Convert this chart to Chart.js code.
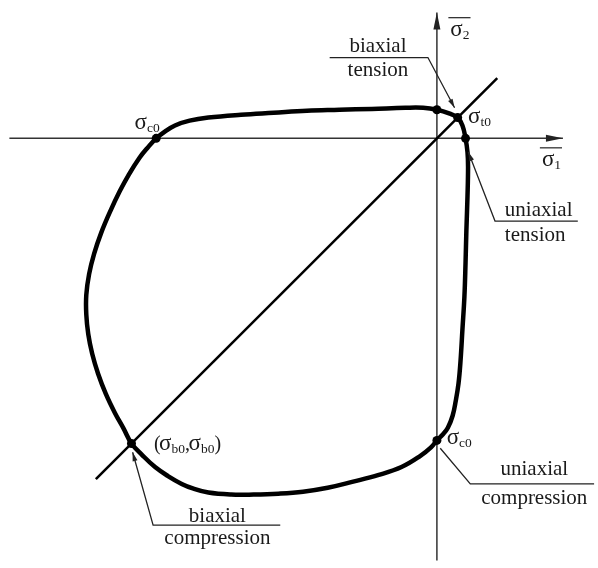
<!DOCTYPE html>
<html>
<head>
<meta charset="utf-8">
<script src="https://cdn.jsdelivr.net/npm/chart.js@4.4.1/dist/chart.umd.min.js"></script>
<style>
  body { margin: 0; background: #fff; }
</style>
</head>
<body>
<canvas id="myChart" width="598" height="568"></canvas>
<script>
// contraintes normalisées (sigma / |sigma_c0|), surface de rupture relevée sur l'image
// ordre : haut -> côté droit -> bas -> côté gauche -> haut
const courbeX = [-0.347, -0.232, -0.112, -0.049, 0, 0.046, 0.074, 0.091, 0.102,
                 0.109, 0.111, 0.109, 0.105, 0.102, 0.098, 0.091, 0.084, 0.077, 0.067, 0.056, 0.039, 0.021, 0,
                 -0.021, -0.060, -0.126, -0.207, -0.302, -0.389, -0.477, -0.565, -0.653, -0.733, -0.814, -0.867,
                 -0.909, -0.958, -1.004, -1.049, -1.088,
                 -1.116, -1.147, -1.179, -1.207, -1.228, -1.242, -1.249, -1.249, -1.239, -1.221, -1.196, -1.165,
                 -1.130, -1.098, -1.060, -1.032, -1.0,
                 -0.968, -0.933, -0.881, -0.814, -0.698, -0.582, -0.463];
const courbeY = [0.102, 0.105, 0.109, 0.109, 0.102, 0.088, 0.074, 0.046, 0,
                 -0.049, -0.102, -0.207, -0.330, -0.446, -0.565, -0.681, -0.796, -0.874, -0.937, -0.989, -1.032, -1.056, -1.077,
                 -1.102, -1.133, -1.172, -1.200, -1.225, -1.246, -1.260, -1.267, -1.270, -1.270, -1.263, -1.249,
                 -1.232, -1.204, -1.172, -1.130, -1.088,
                 -1.035, -0.979, -0.912, -0.839, -0.768, -0.698, -0.628, -0.558, -0.484, -0.411, -0.337, -0.263,
                 -0.189, -0.130, -0.070, -0.035, 0,
                 0.025, 0.046, 0.063, 0.074, 0.084, 0.091, 0.098];

// points caractéristiques : sigma_c0 (gauche), axe sigma2, sigma_t0, axe sigma1, sigma_c0 (bas), (sigma_b0, sigma_b0)
const pointsX = [-1.0, 0, 0.074, 0.102, 0, -1.088];
const pointsY = [0, 0.102, 0.074, 0, -1.077, -1.088];

// droite sigma1 = sigma2
const diagX = [-1.215, 0.215];
const diagY = [-1.215, 0.215];

// axes
const axeHX = [-1.523, 0.449];
const axeHY = [0, 0];
const axeVX = [0, 0];
const axeVY = [-1.505, 0.449];

// textes des renvois
const texteBiTension = ['biaxial', 'tension'];
const texteUniTension = ['uniaxial', 'tension'];
const texteUniCompression = ['uniaxial', 'compression'];
const texteBiCompression = ['biaxial', 'compression'];

function toXY(xs, ys) {
    var out = [];
    for (let i = 0; i < xs.length; i++) {
        out.push({x: xs[i], y: ys[i]});
    }
    return out;
}

var dataCourbe = toXY(courbeX, courbeY);
dataCourbe.push({x: courbeX[0], y: courbeY[0]}); // on referme la courbe

const serif = '"Liberation Serif", "Times New Roman", serif';

function fleche(ctx, x0, y0, x1, y1, len, half) {
    const a = Math.atan2(y1 - y0, x1 - x0);
    ctx.beginPath();
    ctx.moveTo(x1, y1);
    ctx.lineTo(x1 - len * Math.cos(a) + half * Math.sin(a), y1 - len * Math.sin(a) - half * Math.cos(a));
    ctx.lineTo(x1 - len * Math.cos(a) - half * Math.sin(a), y1 - len * Math.sin(a) + half * Math.cos(a));
    ctx.closePath();
    ctx.fill();
}

// écrit une suite de morceaux : 'n' normal, 's' indice, 'p' ponctuation resserrée
function symbole(ctx, x, y, morceaux) {
    var cx = x;
    for (const [t, k] of morceaux) {
        if (k === 's') ctx.font = '13.5px ' + serif;
        else if (k === 'p') ctx.font = '20px ' + serif;
        else ctx.font = '23px ' + serif;
        ctx.fillText(t, cx, k === 's' ? y + 3 : y);
        cx += ctx.measureText(t).width - (k === 'p' ? 1.5 : 0);
    }
    return cx;
}

const annotations = {
    id: 'annotations',
    afterDraw(chart) {
        const ctx = chart.ctx;
        const sx = chart.scales.x, sy = chart.scales.y;
        const px = v => sx.getPixelForValue(v);
        const py = v => sy.getPixelForValue(v);
        ctx.save();

        // flèches des axes
        ctx.fillStyle = '#222';
        fleche(ctx, px(axeHX[0]), py(0), px(axeHX[1]), py(0), 17, 3.5);
        fleche(ctx, px(0), py(axeVY[0]), px(0), py(axeVY[1]), 17, 3.5);

        // lignes de renvoi
        const renvois = [
            {chemin: [[-0.382, 0.288], [-0.032, 0.288], [0.063, 0.109]], pointe: true},
            {chemin: [[0.502, -0.295], [0.207, -0.295], [0.112, -0.049]], pointe: true},
            {chemin: [[0.56, -1.232], [0.119, -1.232], [0.012, -1.105]], pointe: false},
            {chemin: [[-0.558, -1.379], [-1.011, -1.379], [-1.084, -1.119]], pointe: true}
        ];
        ctx.strokeStyle = '#222';
        ctx.lineWidth = 1.3;
        for (const r of renvois) {
            ctx.beginPath();
            r.chemin.forEach(function (p, i) {
                if (i == 0) ctx.moveTo(px(p[0]), py(p[1]));
                else ctx.lineTo(px(p[0]), py(p[1]));
            });
            ctx.stroke();
            if (r.pointe) {
                const a = r.chemin[r.chemin.length - 2], b = r.chemin[r.chemin.length - 1];
                fleche(ctx, px(a[0]), py(a[1]), px(b[0]), py(b[1]), 9, 2.5);
            }
        }

        // textes
        ctx.fillStyle = '#1a1a1a';
        ctx.font = '21px ' + serif;
        ctx.textBaseline = 'alphabetic';
        ctx.textAlign = 'center';
        ctx.fillText(texteBiTension[0], px(-0.21), py(0.309));
        ctx.fillText(texteBiTension[1], px(-0.21), py(0.221));
        ctx.fillText(texteUniCompression[0], px(0.347), py(-1.200));
        ctx.fillText(texteUniCompression[1], px(0.347), py(-1.302));
        ctx.fillText(texteBiCompression[0], px(-0.782), py(-1.368));
        ctx.fillText(texteBiCompression[1], px(-0.782), py(-1.446));
        ctx.textAlign = 'left';
        ctx.fillText(texteUniTension[0], px(0.242), py(-0.277));
        ctx.fillText(texteUniTension[1], px(0.242), py(-0.365));

        // symboles
        symbole(ctx, px(-1.077), py(0.035), [['σ', 'n'], ['c0', 's']]);
        symbole(ctx, px(0.111), py(0.056), [['σ', 'n'], ['t0', 's']]);
        symbole(ctx, px(0.035), py(-1.090), [['σ', 'n'], ['c0', 's']]);
        symbole(ctx, px(-1.008), py(-1.112), [['(', 'p'], ['σ', 'n'], ['b0', 's'], [',', 'p'], ['σ', 'n'], ['b0', 's'], [')', 'p']]);

        // sigma barre 1 et 2
        ctx.lineWidth = 1.2;
        var x0 = px(0.048), y0 = py(0.366);
        var x1 = symbole(ctx, x0, y0, [['σ', 'n'], ['2', 's']]);
        ctx.beginPath(); ctx.moveTo(x0 - 2, y0 - 18); ctx.lineTo(x1 + 1, y0 - 18); ctx.stroke();
        x0 = px(0.374); y0 = py(-0.098);
        x1 = symbole(ctx, x0, y0, [['σ', 'n'], ['1', 's']]);
        ctx.beginPath(); ctx.moveTo(x0 - 2, y0 - 18); ctx.lineTo(x1 + 1, y0 - 18); ctx.stroke();

        ctx.restore();
    }
};

const ctx = document.getElementById('myChart').getContext('2d');
const chart = new Chart(ctx, {
    type: 'scatter',
    data: {
        datasets: [
            {
                label: 'points',
                data: toXY(pointsX, pointsY),
                pointRadius: 4.5,
                pointBackgroundColor: '#000',
                pointBorderWidth: 0,
                showLine: false
            },
            {
                label: 'courbe',
                data: dataCourbe,
                showLine: true,
                tension: 0.4,
                borderColor: '#000',
                borderWidth: 4.5,
                pointRadius: 0,
                fill: false
            },
            {
                label: 'diagonale',
                data: toXY(diagX, diagY),
                showLine: true,
                borderColor: '#000',
                borderWidth: 2.5,
                pointRadius: 0
            },
            {
                label: 'axe1',
                data: toXY(axeHX, axeHY),
                showLine: true,
                borderColor: '#333',
                borderWidth: 1.5,
                pointRadius: 0
            },
            {
                label: 'axe2',
                data: toXY(axeVX, axeVY),
                showLine: true,
                borderColor: '#333',
                borderWidth: 1.5,
                pointRadius: 0
            }
        ]
    },
    options: {
        responsive: false,
        animation: false,
        devicePixelRatio: 1,
        layout: { padding: 0 },
        plugins: { legend: { display: false }, tooltip: { enabled: false } },
        scales: {
            x: { type: 'linear', min: -1.5404, max: 0.5579, display: false },
            y: { type: 'linear', min: -1.5158, max: 0.4772, display: false }
        }
    },
    plugins: [annotations]
});
</script>
</body>
</html>
